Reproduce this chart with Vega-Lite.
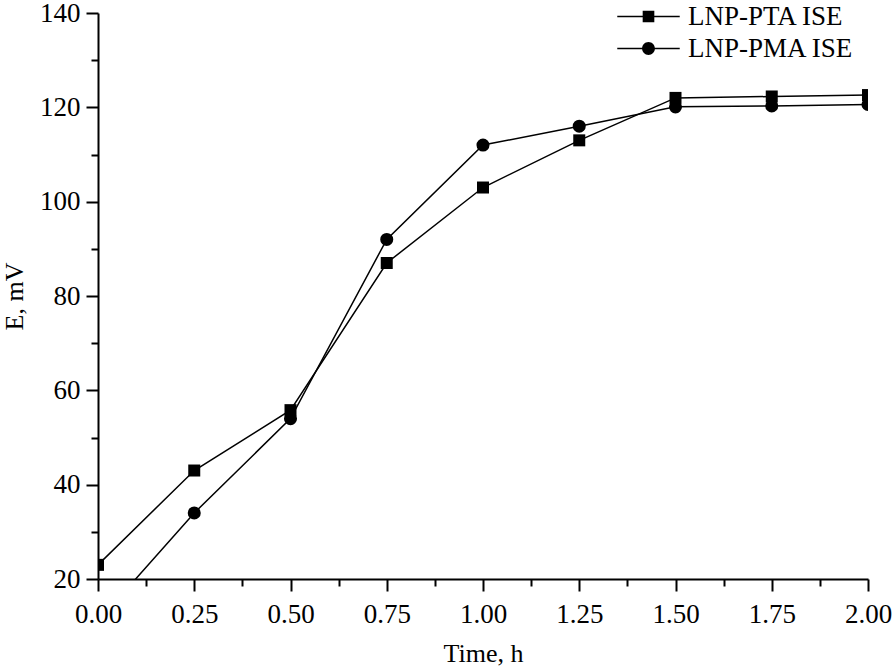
{
  "$schema": "https://vega.github.io/schema/vega-lite/v6.json",
  "width": 770,
  "height": 566,
  "autosize": "none",
  "padding": {"left": 98, "top": 13, "right": 26, "bottom": 88},
  "background": "white",
  "config": {
    "view": {"stroke": null},
    "font": "Liberation Serif",
    "axis": {
      "domainColor": "black", "domainWidth": 2, "tickColor": "black", "tickWidth": 2,
      "labelColor": "black", "labelFont": "Liberation Serif", "labelFontSize": 27,
      "titleFont": "Liberation Serif", "titleFontSize": 26, "titleFontWeight": "normal", "titleColor": "black",
      "grid": false
    }
  },
  "data": {"values": [
    {"t": 0.0, "E": 23, "series": "LNP-PTA ISE"},
    {"t": 0.25, "E": 43, "series": "LNP-PTA ISE"},
    {"t": 0.5, "E": 55.8, "series": "LNP-PTA ISE"},
    {"t": 0.75, "E": 87, "series": "LNP-PTA ISE"},
    {"t": 1.0, "E": 103, "series": "LNP-PTA ISE"},
    {"t": 1.25, "E": 113, "series": "LNP-PTA ISE"},
    {"t": 1.5, "E": 122, "series": "LNP-PTA ISE"},
    {"t": 1.75, "E": 122.3, "series": "LNP-PTA ISE"},
    {"t": 2.0, "E": 122.6, "series": "LNP-PTA ISE"},
    {"t": 0.0, "E": 11, "series": "LNP-PMA ISE"},
    {"t": 0.25, "E": 34, "series": "LNP-PMA ISE"},
    {"t": 0.5, "E": 54, "series": "LNP-PMA ISE"},
    {"t": 0.75, "E": 92, "series": "LNP-PMA ISE"},
    {"t": 1.0, "E": 112, "series": "LNP-PMA ISE"},
    {"t": 1.25, "E": 116, "series": "LNP-PMA ISE"},
    {"t": 1.5, "E": 120.1, "series": "LNP-PMA ISE"},
    {"t": 1.75, "E": 120.3, "series": "LNP-PMA ISE"},
    {"t": 2.0, "E": 120.6, "series": "LNP-PMA ISE"}
  ]},
  "encoding": {
    "x": {"field": "t", "type": "quantitative", "title": "Time, h",
      "scale": {"domain": [0, 2], "nice": false, "zero": false},
      "axis": {
        "values": [0, 0.125, 0.25, 0.375, 0.5, 0.625, 0.75, 0.875, 1, 1.125, 1.25, 1.375, 1.5, 1.625, 1.75, 1.875, 2],
        "labelExpr": "(datum.value * 4) % 1 === 0 ? format(datum.value, '.2f') : ''",
        "tickSize": {"condition": {"test": "(datum.value * 4) % 1 !== 0", "value": 7}, "value": 12},
        "labelPadding": 10, "labelFlush": false, "labelOverlap": false, "titlePadding": 13
      }},
    "y": {"field": "E", "type": "quantitative", "title": "E, mV",
      "scale": {"domain": [20, 140], "nice": false, "zero": false},
      "axis": {
        "values": [20, 30, 40, 50, 60, 70, 80, 90, 100, 110, 120, 130, 140],
        "labelExpr": "datum.value % 20 === 0 ? format(datum.value, 'd') : ''",
        "tickSize": {"condition": {"test": "datum.value % 20 !== 0", "value": 7}, "value": 12},
        "labelPadding": 6, "labelFlush": false, "labelOverlap": false, "titlePadding": 12
      }}
  },
  "layer": [
    {
      "mark": {"type": "line", "color": "black", "strokeWidth": 1.5, "clip": true},
      "encoding": {"detail": {"field": "series"}}
    },
    {
      "transform": [{"filter": "datum.series === 'LNP-PTA ISE'"}],
      "mark": {"type": "point", "shape": "square", "filled": true, "color": "black", "opacity": 1, "size": 144, "clip": true}
    },
    {
      "transform": [{"filter": "datum.series === 'LNP-PMA ISE'"}],
      "mark": {"type": "point", "shape": "circle", "filled": true, "color": "black", "opacity": 1, "size": 170, "clip": true}
    },
    {
      "mark": {"type": "point", "filled": true, "color": "black", "opacity": 0, "clip": true},
      "encoding": {
        "shape": {"field": "series", "type": "nominal",
          "scale": {"domain": ["LNP-PTA ISE", "LNP-PMA ISE"],
            "range": [
              "M-5.1,-0.12H-0.95V0.12H-5.1Z M-0.95,-0.95H0.95V0.95H-0.95Z M0.95,-0.12H5.1V0.12H0.95Z",
              "M-5.1,-0.12H-1V0.12H-5.1Z M1.05,0A1.05,1.05 0 1,1 -1.05,0A1.05,1.05 0 1,1 1.05,0Z M1,-0.12H5.1V0.12H1Z"
            ]},
          "legend": {
            "title": null, "orient": "none", "legendX": 537, "legendY": -10, "padding": 0,
            "symbolSize": 150, "symbolFillColor": "black", "symbolStrokeWidth": 0, "symbolOpacity": 1,
            "labelFont": "Liberation Serif", "labelFontSize": 27, "labelColor": "black",
            "labelOffset": 26, "rowPadding": 4, "labelLimit": 400
          }}
      }
    }
  ]
}
